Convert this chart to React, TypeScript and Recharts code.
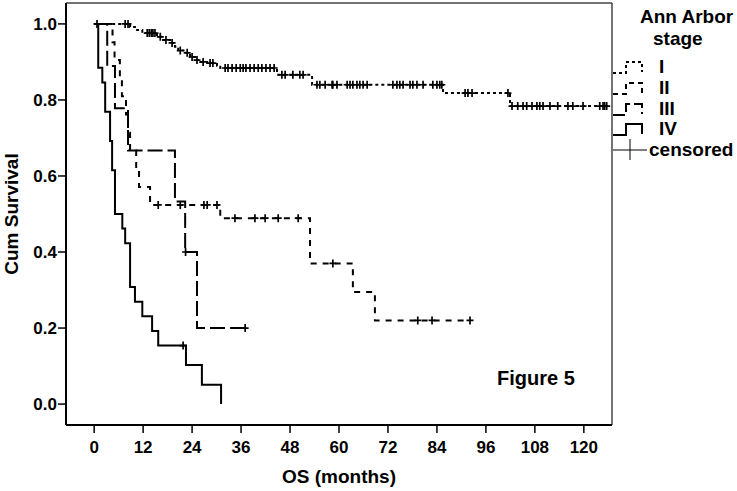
import React from "react";
import {
  ComposedChart,
  Line,
  Scatter,
  XAxis,
  YAxis,
  ReferenceLine,
} from "recharts";

// Kaplan-Meier steps (months, cumulative survival)
const stage1Times = [0, 8.8, 10.0, 11.8, 15.4, 16.9, 18.6, 19.8, 20.6, 22.3, 23.5, 24.7, 26.0, 27.7, 30.1, 30.9, 44.8, 53.4, 85.5, 101.9, 125.9];
const stage1Surv = [1.0, 0.992, 0.984, 0.976, 0.966, 0.958, 0.95, 0.94, 0.93, 0.924, 0.913, 0.905, 0.9, 0.897, 0.89, 0.884, 0.866, 0.84, 0.818, 0.784, 0.784];
const stage1Censored = [
  0.7, 7.6, 8.3, 13.0, 13.5, 14.0, 14.4, 14.9, 16.2, 17.6, 19.1, 21.1, 22.8, 24.0, 25.2, 26.7, 28.4, 29.1,
  32.1, 32.8, 33.8, 34.8, 35.8, 36.5, 37.2, 38.2, 39.2, 40.2, 41.1, 42.1, 43.1, 44.1, 46.0, 46.8, 48.7,
  50.4, 51.2, 54.6, 55.3, 56.6, 58.3, 58.5, 59.5, 62.0, 62.7, 63.4, 64.4, 65.1, 65.9, 66.9, 73.2, 74.2,
  74.9, 75.7, 77.4, 78.1, 79.1, 80.6, 83.0, 84.0, 84.7, 85.2, 90.9, 91.6, 92.6, 101.4, 102.4, 103.8,
  105.1, 106.0, 107.3, 108.5, 109.2, 110.0, 111.7, 113.6, 116.1, 117.3, 119.8, 123.9, 124.7, 125.1, 125.6,
];

const stage2Times = [0, 4.5, 5.0, 6.3, 6.8, 7.8, 8.3, 8.8, 10.3, 11.0, 13.7, 30.9, 52.9, 63.4, 68.8, 92.1];
const stage2Surv = [1.0, 0.952, 0.905, 0.857, 0.81, 0.762, 0.714, 0.667, 0.619, 0.571, 0.524, 0.489, 0.37, 0.295, 0.22, 0.22];
const stage2Censored = [15.7, 21.1, 26.9, 27.7, 30.1, 34.5, 39.4, 41.9, 45.1, 50.0, 58.5, 79.3, 82.8, 92.1];

const stage3Times = [0, 3.2, 5.1, 8.3, 19.8, 22.3, 25.2, 37.0];
const stage3Surv = [1.0, 0.889, 0.778, 0.667, 0.533, 0.4, 0.2, 0.2];
const stage3Censored = [22.4, 37.0];

const stage4Times = [0, 1.0, 2.0, 2.7, 3.9, 4.4, 5.1, 6.9, 7.6, 8.8, 10.0, 11.8, 14.2, 15.7, 22.5, 26.4, 31.1];
const stage4Surv = [1.0, 0.885, 0.846, 0.769, 0.692, 0.615, 0.5, 0.462, 0.423, 0.308, 0.269, 0.231, 0.192, 0.154, 0.103, 0.051, 0.0];
const stage4Censored = [21.8];

const xTicks = [0, 12, 24, 36, 48, 60, 72, 84, 96, 108, 120];
const yTicks = [0, 0.2, 0.4, 0.6, 0.8, 1.0];
const stageLabels = ["I", "II", "III", "IV"];

const X_MIN = -6.9;
const X_MAX = 126.9;
const Y_MIN = -0.055;
const Y_MAX = 1.055;

const FONT = "'Liberation Sans', Arial, Helvetica, sans-serif";

const toPoints = (times: number[], surv: number[]) =>
  times.map((t, i) => ({ t, s: surv[i] }));

const survAt = (times: number[], surv: number[], t: number) => {
  let s = surv[0];
  for (let i = 0; i < times.length; i++) {
    if (times[i] <= t) s = surv[i];
  }
  return s;
};

const toCensored = (cens: number[], times: number[], surv: number[]) =>
  cens.map((t) => ({ t, s: survAt(times, surv, t) }));

const series = [
  { name: "I", times: stage1Times, surv: stage1Surv, cens: stage1Censored, dash: "3 3" },
  { name: "II", times: stage2Times, surv: stage2Surv, cens: stage2Censored, dash: "6 6" },
  { name: "III", times: stage3Times, surv: stage3Surv, cens: stage3Censored, dash: "15 5" },
  { name: "IV", times: stage4Times, surv: stage4Surv, cens: stage4Censored, dash: undefined },
];

const Plus = (props: any) => {
  const { cx, cy } = props;
  if (cx == null || cy == null) return null;
  return (
    <path
      d={`M${cx - 3.5},${cy}H${cx + 3.5}M${cx},${cy - 4}V${cy + 4}`}
      stroke="#000"
      strokeWidth={1.7}
      fill="none"
    />
  );
};

const StageLegend = () => {
  const rowBase = [73, 94, 115, 135];
  const dashes = ["3 3", "5 4", "12 4", undefined];
  return (
    <svg
      width={137}
      height={180}
      style={{ position: "absolute", left: 600, top: 0 }}
      fontFamily={FONT}
      fontWeight="bold"
    >
      <text x={40} y={23} fontSize={19} fill="#000">Ann Arbor</text>
      <text x={53} y={45} fontSize={19} fill="#000">stage</text>
      {stageLabels.map((lab, i) => {
        const b = rowBase[i];
        return (
          <g key={lab}>
            <path
              d={`M13,${b}H26V${b - 11}H42V${b - 1}`}
              stroke="#000"
              strokeWidth={2}
              fill="none"
              strokeDasharray={dashes[i]}
            />
            <text x={59} y={b} fontSize={19} fill="#000">{lab}</text>
          </g>
        );
      })}
      <path d="M13,150H47M30,139V160" stroke="#000" strokeWidth={1} fill="none" />
      <text x={49} y={156} fontSize={19} fill="#000">censored</text>
    </svg>
  );
};

export default function App() {
  return (
    <div style={{ position: "absolute", left: 0, top: 0, width: 737, height: 491, background: "#fff" }}>
      <ComposedChart
        width={737}
        height={491}
        margin={{ top: 3, right: 125, bottom: 0, left: 0 }}
        style={{ fontFamily: FONT }}
      >
        <XAxis
          dataKey="t"
          type="number"
          domain={[X_MIN, X_MAX]}
          ticks={xTicks}
          allowDataOverflow
          height={66}
          tickSize={8}
          tickMargin={8}
          axisLine={{ stroke: "#000", strokeWidth: 2 }}
          tickLine={{ stroke: "#000", strokeWidth: 1.5 }}
          tick={{ fill: "#000", fontSize: 17, fontWeight: "bold" }}
          label={{
            value: "OS (months)",
            position: "insideBottom",
            offset: 8,
            style: { fill: "#000", fontSize: 19, fontWeight: "bold" },
          }}
        />
        <YAxis
          dataKey="s"
          type="number"
          domain={[Y_MIN, Y_MAX]}
          ticks={yTicks}
          allowDataOverflow
          width={66}
          tickSize={8}
          tickMargin={1}
          tickFormatter={(v: number) => v.toFixed(1)}
          axisLine={{ stroke: "#000", strokeWidth: 2 }}
          tickLine={{ stroke: "#000", strokeWidth: 1.5 }}
          tick={{ fill: "#000", fontSize: 17, fontWeight: "bold" }}
          label={{
            value: "Cum Survival",
            angle: -90,
            position: "insideLeft",
            offset: 11,
            style: { textAnchor: "middle", fill: "#000", fontSize: 19, fontWeight: "bold" },
          }}
        />
        <ReferenceLine y={Y_MAX} stroke="#444" strokeWidth={1.5} />
        <ReferenceLine x={X_MAX} stroke="#444" strokeWidth={1.5} />
        {series.map((sr) => (
          <Line
            key={`line-${sr.name}`}
            data={toPoints(sr.times, sr.surv)}
            dataKey="s"
            type="stepAfter"
            stroke="#000"
            strokeWidth={2}
            strokeDasharray={sr.dash}
            dot={false}
            activeDot={false}
            isAnimationActive={false}
          />
        ))}
        {series.map((sr) => (
          <Scatter
            key={`cens-${sr.name}`}
            data={toCensored(sr.cens, sr.times, sr.surv)}
            dataKey="s"
            shape={<Plus />}
            isAnimationActive={false}
          />
        ))}
      </ComposedChart>
      <StageLegend />
      <div
        style={{
          position: "absolute",
          left: 497,
          top: 366,
          fontFamily: FONT,
          fontWeight: "bold",
          fontSize: 20,
          lineHeight: "24px",
          color: "#000",
        }}
      >
        Figure 5
      </div>
    </div>
  );
}
